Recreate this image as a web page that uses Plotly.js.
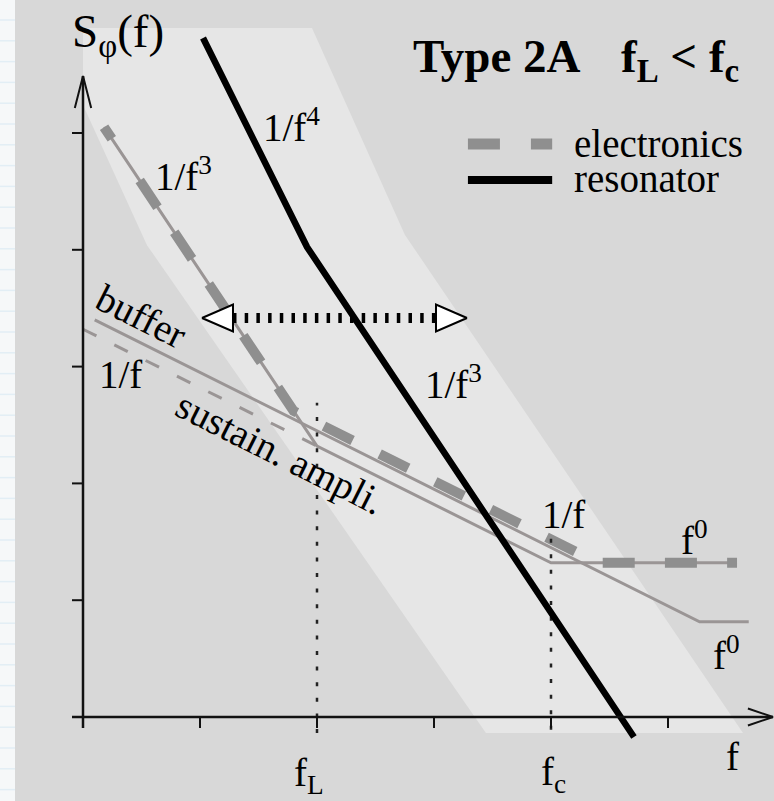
<!DOCTYPE html>
<html>
<head>
<meta charset="utf-8">
<script src="https://cdn.plot.ly/plotly-3.0.1.min.js"></script>
<style>
  html, body { margin: 0; padding: 0; background: #f6f8f9; }
  #chart { width: 774px; height: 801px; }
</style>
</head>
<body>
<div id="chart"></div>
<script>
// Frequency axis in decades (x) and S_phi in half-decade steps (y)
const tickX = [0, 1, 2, 3, 4, 5];
const tickY = [0, 1, 2, 3, 4, 5];

// Corner frequencies (Leeson and resonator corner)
const fL = 2;
const fc = 4;
const cornerTopY = [2.69, 1.54];     // upper end of the dotted guides at fL, fc

// Shaded region of possible resonator spectra
const bandX = [0, 0, 0.547, 3.444, 5.641, 2.752, 1.957];
const bandY = [5.90, 5.24, 4.04, -0.137, -0.137, 4.127, 5.90];

// Resonator: 1/f^4 then 1/f^3
const resonatorX = [1.026, 1.915, 4.709];
const resonatorY = [5.813, 4.024, -0.171];

// Electronics total: 1/f^3, 1/f, f^0
const electronicsX = [0.18, 1.80, 4.40, 5.59];
const electronicsY = [5.05, 2.62, 1.32, 1.32];

// Sustaining amplifier after Leeson effect: 1/f^3, 1/f, f^0
const sustainX = [0.18, 2.00, 4.00, 5.59];
const sustainY = [5.05, 2.32, 1.32, 1.32];

// Sustaining amplifier flicker below fL
const sustainFlickerX = [0.00, 2.00];
const sustainFlickerY = [3.32, 2.32];

// Output buffer: 1/f then f^0
const bufferX = [0.10, 5.27, 5.69];
const bufferY = [3.40, 0.815, 0.815];

// Double arrow between the two corners
const spanX = [1.017, 3.282];
const spanY = 3.416;

// Legend sample strokes
const legendX = [3.29, 4.01];
const legendY = [4.906, 4.598];

const INK = '#000000';
const THIN = '#9a9595';
const THICK = '#8f8f8f';
const SERIF = 'Liberation Serif, Times New Roman, serif';
const LABEL_SIZE = 39;
const TITLE_SIZE = 47;

function repeatDash(first, rest, n) {
  let parts = first.slice();
  for (let i = 0; i < n; i++) parts = parts.concat(rest);
  return parts.map(v => v + 'px').join(',');
}

function line(x, y, color, width, dash) {
  return {
    type: 'scatter', mode: 'lines', x: x, y: y,
    line: { color: color, width: width, dash: dash || 'solid', shape: 'linear' },
    hoverinfo: 'skip', showlegend: false
  };
}

// segments joined by nulls
function segments(list) {
  const x = [], y = [];
  list.forEach(s => { x.push(s[0], s[2], null); y.push(s[1], s[3], null); });
  return { x: x, y: y };
}

const traces = [];

// shaded band
traces.push({
  type: 'scatter', mode: 'lines', x: bandX.concat([bandX[0]]), y: bandY.concat([bandY[0]]),
  fill: 'toself', fillcolor: '#e6e6e6', line: { width: 0, color: 'rgba(0,0,0,0)' },
  hoverinfo: 'skip', showlegend: false
});

// thin component lines
traces.push(line(sustainFlickerX, sustainFlickerY, THIN, 3, '15px,20px'));
traces.push(line(bufferX, bufferY, THIN, 3));
traces.push(line(sustainX, sustainY, THIN, 3));

// electronics thick dashed
traces.push(line(electronicsX, electronicsY, THICK, 10, repeatDash([14, 50.2], [32, 30.2], 20)));

// dotted corner guides
const guides = segments([[fL, -0.137, fL, cornerTopY[0]], [fc, -0.11, fc, cornerTopY[1]]]);
traces.push(line(guides.x, guides.y, '#222222', 2.5, '4px,11.6px'));

// resonator
traces.push(line(resonatorX, resonatorY, INK, 6.5));

// double arrow: dotted shaft and open triangular heads
const headLen = 0.265, headHalf = 0.115;
traces.push(line([spanX[0] + headLen, spanX[1] - headLen], [spanY, spanY], INK, 10, '3.5px,8.2px'));
[[spanX[0], 1], [spanX[1], -1]].forEach(([tip, dir]) => {
  traces.push({
    type: 'scatter', mode: 'lines',
    x: [tip, tip + dir * headLen, tip + dir * headLen, tip],
    y: [spanY, spanY + headHalf, spanY - headHalf, spanY],
    fill: 'toself', fillcolor: '#ffffff',
    line: { color: INK, width: 2 }, hoverinfo: 'skip', showlegend: false
  });
});

// axes
const yTop = 5.488, xRight = 5.897, tickLen = 0.094;
traces.push(line([0, 0], [-tickLen, yTop], '#111111', 2.5));
traces.push(line([-tickLen, xRight], [0, 0], '#111111', 2.5));
const ticks = segments(
  tickX.map(v => [v, 0, v, -tickLen]).concat(tickY.map(v => [-tickLen, v, 0, v]))
);
traces.push(line(ticks.x, ticks.y, '#111111', 2));
// open arrow heads of the axes
traces.push(line([-0.07, 0, 0.07], [yTop - 0.274, yTop, yTop - 0.274], '#111111', 2));
traces.push(line([xRight - 0.214, xRight, xRight - 0.214], [0.073, 0, -0.073], '#111111', 2));

// legend strokes
traces.push(line(legendX, [legendY[0], legendY[0]], THICK, 11, '32px,31px'));
traces.push(line(legendX, [legendY[1], legendY[1]], INK, 8));

function label(text, x, y, opts) {
  return Object.assign({
    text: text, x: x, y: y, xref: 'x', yref: 'y', showarrow: false,
    xanchor: 'left', yanchor: 'middle',
    font: { family: SERIF, size: LABEL_SIZE, color: INK }
  }, opts || {});
}
const big = { font: { family: SERIF, size: TITLE_SIZE, color: INK } };
const tight = { height: 34, valign: 'middle' };

const annotations = [
  label('S<sub>φ</sub>(f)', -0.11, 5.84, big),
  label('<b>Type 2A</b>', 2.80, 5.66, big),
  label('<b>f<sub>L</sub> &lt; f<sub>c</sub></b>', 4.585, 5.63, big),
  label('electronics', 4.18, 4.915, tight),
  label('resonator', 4.18, 4.615, tight),
  label('1/f<sup>4</sup>', 1.52, 5.07),
  label('1/f<sup>3</sup>', 0.60, 4.65),
  label('buffer', 0.504, 3.43, { xanchor: 'center', textangle: 26.6 }),
  label('1/f', 0.12, 2.93),
  label('sustain. ampli.', 1.68, 2.26, { xanchor: 'center', textangle: 26.6 }),
  label('1/f<sup>3</sup>', 2.91, 2.87),
  label('1/f', 3.91, 1.73),
  label('f<sup>0</sup>', 5.09, 1.53),
  label('f<sup>0</sup>', 5.37, 0.545),
  label('f<sub>L</sub>', 1.79, -0.50),
  label('f<sub>c</sub>', 3.90, -0.49),
  label('f', 5.48, -0.34)
];

// gray sheet and ruled margin strip
const shapes = [{
  type: 'rect', xref: 'paper', yref: 'paper', x0: 15 / 774, x1: 1, y0: 0, y1: 1,
  fillcolor: '#d8d8d8', line: { width: 0 }, layer: 'below'
}];
for (let py = 20; py < 801; py += 20.8) {
  shapes.push({
    type: 'line', xref: 'paper', yref: 'paper', x0: 0, x1: 15 / 774,
    y0: 1 - py / 801, y1: 1 - py / 801,
    line: { color: '#e2eef5', width: 1.5 }, layer: 'below'
  });
}

const layout = {
  width: 774, height: 801,
  margin: { l: 0, r: 0, t: 0, b: 0, pad: 0 },
  paper_bgcolor: '#f6f8f9', plot_bgcolor: 'rgba(0,0,0,0)',
  xaxis: { range: [-0.7094, 5.906], autorange: false, visible: false, fixedrange: true },
  yaxis: { range: [-0.7192, 6.1387], autorange: false, visible: false, fixedrange: true },
  showlegend: false,
  shapes: shapes,
  annotations: annotations
};

Plotly.newPlot('chart', traces, layout, { displayModeBar: false, staticPlot: true });
</script>
</body>
</html>
